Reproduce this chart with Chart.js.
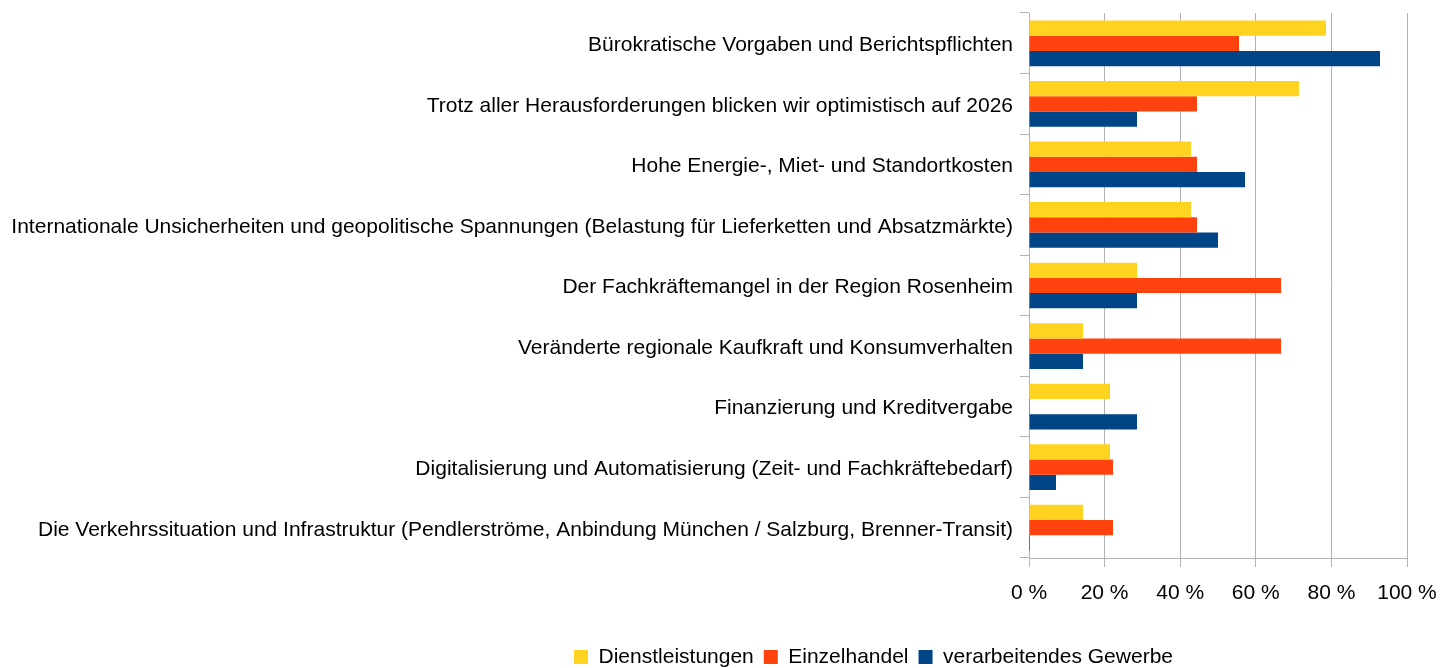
<!DOCTYPE html>
<html>
<head>
<meta charset="utf-8">
<script src="https://cdn.jsdelivr.net/npm/chart.js@4"></script>
<style>
  html, body { margin: 0; padding: 0; background: #fff; }
  #wrap { width: 1455px; height: 668px; }
</style>
</head>
<body>
<div id="wrap"><canvas id="myBarChart"></canvas></div>
<script>
const categories = [
    'Bürokratische Vorgaben und Berichtspflichten',
    'Trotz aller Herausforderungen blicken wir optimistisch auf 2026',
    'Hohe Energie-, Miet- und Standortkosten',
    'Internationale Unsicherheiten und geopolitische Spannungen (Belastung für Lieferketten und Absatzmärkte)',
    'Der Fachkräftemangel in der Region Rosenheim',
    'Veränderte regionale Kaufkraft und Konsumverhalten',
    'Finanzierung und Kreditvergabe',
    'Digitalisierung und Automatisierung (Zeit- und Fachkräftebedarf)',
    'Die Verkehrssituation und Infrastruktur (Pendlerströme, Anbindung München / Salzburg, Brenner-Transit)'
];
const dienstleistungen = [78.57, 71.43, 42.86, 42.86, 28.57, 14.29, 21.43, 21.43, 14.29];
const einzelhandel = [55.56, 44.44, 44.44, 44.44, 66.67, 66.67, 0, 22.22, 22.22];
const gewerbe = [92.86, 28.57, 57.14, 50.0, 28.57, 14.29, 28.57, 7.14, 0];
const xTicks = [0, 20, 40, 60, 80, 100];

const font = { family: '"Liberation Sans", Arial, sans-serif', size: 21 };
const gridColor = '#b3b3b3';

// legende sitzt im Original nicht mittig, etwas nach rechts schieben
const legendShift = {
    id: 'legendShift',
    afterLayout(chart) {
        chart.legend.left += 170;
        chart.legend.right += 170;
    }
};

const ctx = document.getElementById('myBarChart').getContext('2d');
const myBarChart = new Chart(ctx, {
    type: 'bar',
    data: {
        labels: categories,
        datasets: [
            { label: 'Dienstleistungen', data: dienstleistungen, backgroundColor: '#ffd320', minBarLength: 1 },
            { label: 'Einzelhandel', data: einzelhandel, backgroundColor: '#ff420e', minBarLength: 1 },
            { label: 'verarbeitendes Gewerbe', data: gewerbe, backgroundColor: '#004586', minBarLength: 1 }
        ]
    },
    plugins: [legendShift],
    options: {
        indexAxis: 'y',
        responsive: true,
        maintainAspectRatio: false,
        animation: false,
        categoryPercentage: 0.755,
        barPercentage: 1.0,
        layout: { padding: { top: 13, right: 48, left: 0, bottom: -9.5 } },
        scales: {
            x: {
                min: 0,
                max: 100,
                afterBuildTicks: (scale) => { scale.ticks = xTicks.map(v => ({ value: v })); },
                afterFit: (scale) => { scale.height = 78.5; },
                ticks: {
                    color: '#000',
                    font: font,
                    padding: 14,
                    callback: (v) => v + ' %'
                },
                grid: { color: gridColor, tickLength: 9 },
                border: { color: gridColor }
            },
            y: {
                afterFit: (scale) => {
                    scale.width = 1029;
                    scale.paddingTop = 0;
                    scale.paddingBottom = 0;
                },
                ticks: { color: '#000', font: font, padding: 7, labelOffset: 2, autoSkip: false },
                grid: { color: gridColor, drawOnChartArea: false, tickLength: 9, offset: true },
                border: { color: gridColor }
            }
        },
        plugins: {
            legend: {
                position: 'bottom',
                labels: {
                    color: '#000',
                    font: font,
                    boxWidth: 14,
                    boxHeight: 14,
                    padding: 10
                }
            },
            tooltip: { enabled: false }
        }
    }
});
</script>
</body>
</html>
